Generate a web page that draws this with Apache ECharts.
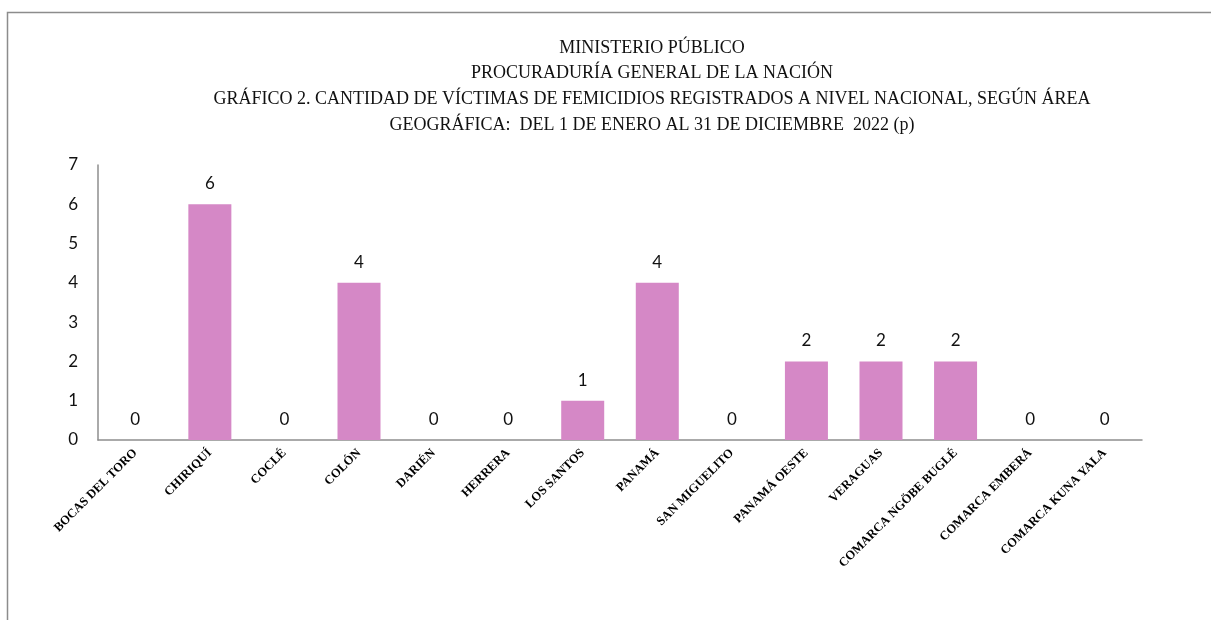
<!DOCTYPE html>
<html>
<head>
<meta charset="utf-8">
<title>Femicidios 2022</title>
<script src="https://cdn.jsdelivr.net/npm/echarts@6/dist/echarts.min.js"></script>
<style>
  html, body { margin: 0; padding: 0; background: #fff; }
  #chart { width: 1211px; height: 620px; }
</style>
</head>
<body>
<div id="chart"></div>
<script>
// datos
const categorias = ['BOCAS DEL TORO', 'CHIRIQUÍ', 'COCLÉ', 'COLÓN', 'DARIÉN', 'HERRERA', 'LOS SANTOS',
  'PANAMÁ', 'SAN MIGUELITO', 'PANAMÁ OESTE', 'VERAGUAS', 'COMARCA NGÖBE BUGLÉ', 'COMARCA EMBERÁ', 'COMARCA KUNA YALA']
const victimas = [0, 6, 0, 4, 0, 0, 1, 4, 0, 2, 2, 2, 0, 0]
const titulo = [
  'MINISTERIO PÚBLICO',
  'PROCURADURÍA GENERAL DE LA NACIÓN',
  'GRÁFICO 2. CANTIDAD DE VÍCTIMAS DE FEMICIDIOS REGISTRADOS A NIVEL NACIONAL, SEGÚN ÁREA',
  'GEOGRÁFICA:  DEL 1 DE ENERO AL 31 DE DICIEMBRE  2022 (p)'
]

const myChart = echarts.init(document.getElementById('chart'), null, { renderer: 'canvas' })
const option = {
  animation: false,
  backgroundColor: '#fff',
  graphic: [
    {
      type: 'rect',
      shape: { x: 7.5, y: 12.5, width: 1400, height: 800 },
      style: { fill: 'none', stroke: '#8c8c8c', lineWidth: 1.5 },
      silent: true
    },
    {
      type: 'text',
      x: 652,
      y: 35,
      style: {
        text: titulo.join('\n'),
        align: 'center',
        verticalAlign: 'top',
        fontFamily: 'Liberation Serif',
        fontSize: 18,
        lineHeight: 25.7,
        fill: '#111'
      }
    }
  ],
  grid: {
    left: 98,
    right: 69,
    top: 165,
    bottom: 180
  },
  xAxis: {
    type: 'category',
    data: categorias,
    axisTick: { show: false },
    axisLine: { lineStyle: { color: '#8e8e8e', width: 1.5 } },
    axisLabel: {
      interval: 0,
      rotate: 45,
      margin: 11,
      color: '#000',
      fontFamily: 'Liberation Serif',
      fontWeight: 'bold',
      fontSize: 12.5
    }
  },
  yAxis: {
    type: 'value',
    min: 0,
    max: 7,
    interval: 1,
    splitLine: { show: false },
    axisTick: { show: false },
    axisLine: { show: true, lineStyle: { color: '#8e8e8e', width: 1.5 } },
    axisLabel: {
      margin: 20,
      color: '#111',
      fontFamily: 'Lato',
      fontSize: 17
    }
  },
  series: [
    {
      type: 'bar',
      data: victimas,
      barWidth: 43,
      itemStyle: { color: '#D588C6' },
      label: {
        show: true,
        position: 'top',
        distance: 12,
        color: '#111',
        fontFamily: 'Lato',
        fontSize: 17
      }
    }
  ]
}
myChart.setOption(option)
</script>
</body>
</html>
